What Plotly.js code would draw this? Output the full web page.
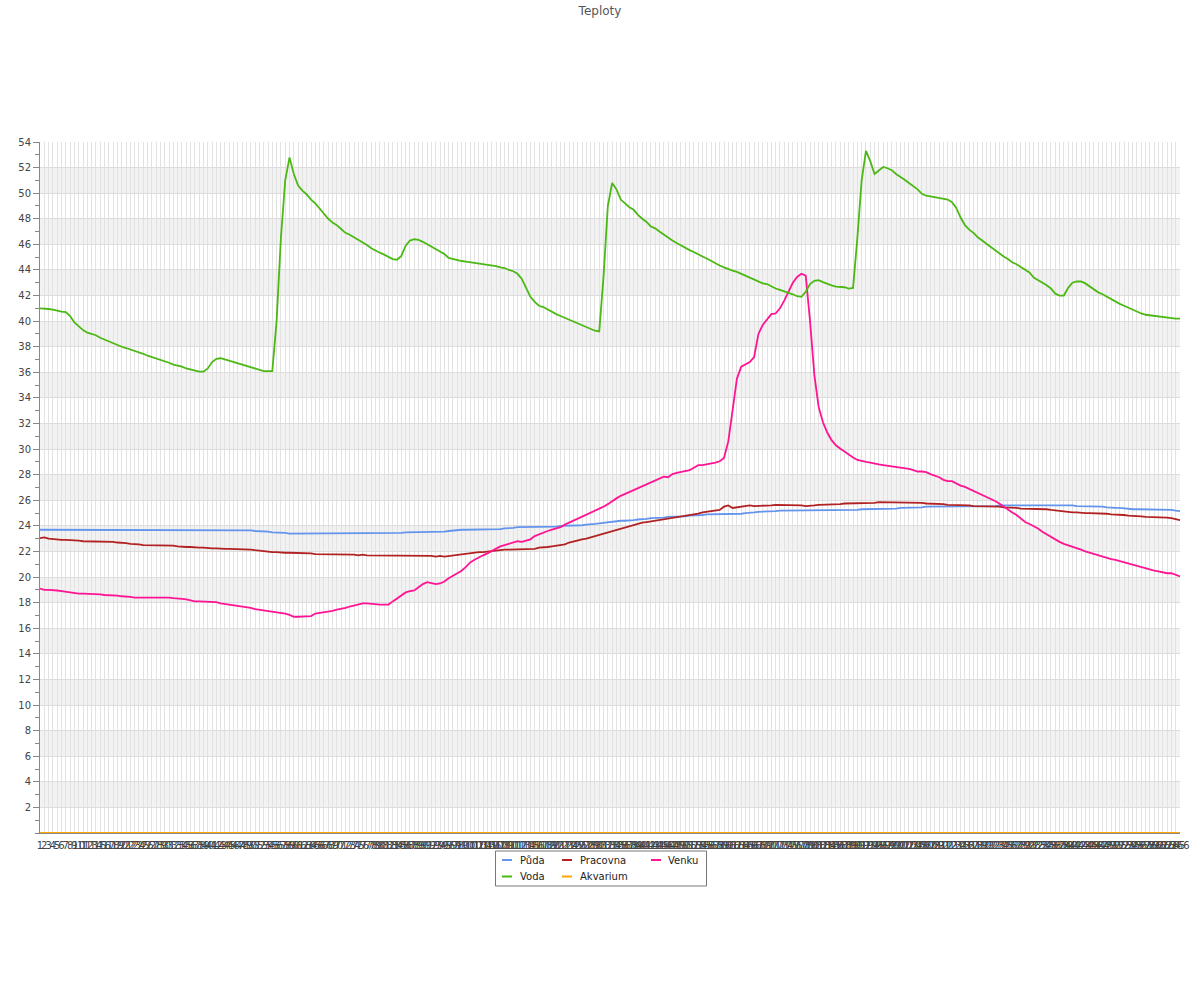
<!DOCTYPE html>
<html>
<head>
<meta charset="utf-8">
<script src="https://cdn.plot.ly/plotly-3.0.1.min.js"></script>
<style>html,body{margin:0;padding:0;background:#fff;}#chart{width:1200px;height:1000px;}</style>
</head>
<body>
<div id="chart"></div>
<script>
// ---- data ----
const chartTitle = "Teploty";
const seriesNames = ["Půda", "Pracovna", "Venku", "Voda", "Akvarium"];

const voda = [
41.0,41.0,40.95,40.9,40.8,40.75,40.7,40.4,39.9,39.6,
39.3,39.1,39.0,38.9,38.7,38.55,38.4,38.3,38.15,38.0,
37.9,37.8,37.65,37.55,37.45,37.3,37.2,37.1,36.95,36.85,
36.75,36.6,36.55,36.45,36.3,36.2,36.1,36.05,36.05,36.3,
36.8,37.05,37.1,37.0,36.9,36.75,36.7,36.55,36.5,36.35,
36.25,36.15,36.1,36.1,36.1,40.0,46.5,51.0,52.8,51.5,
50.6,50.2,49.9,49.5,49.2,48.8,48.4,48.0,47.7,47.5,
47.2,46.9,46.75,46.55,46.35,46.2,45.95,45.7,45.5,45.35,
45.2,45.0,44.85,44.8,45.1,45.9,46.3,46.4,46.35,46.2,
46.0,45.85,45.65,45.45,45.25,44.95,44.85,44.75,44.7,44.65,
44.6,44.6,44.55,44.5,44.45,44.4,44.3,44.2,44.15,44.0,
43.9,43.7,43.3,42.6,41.9,41.5,41.2,41.1,40.9,40.75,
40.55,40.4,40.25,40.1,39.95,39.8,39.65,39.5,39.35,39.25,
39.2,43.5,49.0,50.8,50.3,49.5,49.2,48.9,48.7,48.3,
48.0,47.75,47.4,47.25,47.0,46.75,46.5,46.3,46.1,45.9,
45.75,45.55,45.4,45.2,45.05,44.9,44.7,44.5,44.35,44.2,
44.05,43.95,43.85,43.7,43.6,43.45,43.3,43.1,42.95,42.9,
42.7,42.55,42.45,42.35,42.2,42.1,41.95,41.9,42.3,42.9,
43.15,43.2,43.05,42.9,42.8,42.7,42.7,42.65,42.55,42.6,
46.5,51.0,53.3,52.5,51.5,51.8,52.05,51.95,51.8,51.5,
51.3,51.05,50.8,50.55,50.3,49.95,49.8,49.75,49.7,49.6,
49.55,49.5,49.3,48.85,48.1,47.5,47.15,46.9,46.55,46.3,
46.0,45.75,45.5,45.3,45.05,44.85,44.6,44.45,44.25,44.05,
43.8,43.4,43.2,43.05,42.8,42.55,42.15,42.0,42.0,42.6,
43.0,43.1,43.1,42.95,42.7,42.45,42.25,42.1,41.9,41.7,
41.55,41.35,41.2,41.05,40.85,40.7,40.6,40.5,40.45,40.45,
40.4,40.35,40.3,40.25,40.2,40.2
];

const venku = [
19.1,19.0,19.0,19.0,18.95,18.9,18.85,18.8,18.7,18.7,
18.7,18.7,18.7,18.65,18.65,18.6,18.6,18.55,18.55,18.5,
18.5,18.45,18.4,18.4,18.4,18.4,18.45,18.4,18.4,18.4,
18.4,18.35,18.35,18.3,18.25,18.15,18.1,18.1,18.1,18.1,
18.1,18.05,17.95,17.9,17.85,17.8,17.8,17.75,17.7,17.6,
17.5,17.45,17.4,17.4,17.35,17.3,17.25,17.15,17.05,16.9,
16.9,16.9,16.9,16.95,17.15,17.2,17.2,17.25,17.35,17.45,
17.5,17.6,17.7,17.8,17.85,17.95,17.95,17.9,17.9,17.85,
17.85,17.85,18.1,18.35,18.6,18.8,18.9,18.95,19.2,19.45,
19.6,19.5,19.45,19.5,19.65,19.9,20.1,20.25,20.5,20.8,
21.15,21.35,21.55,21.7,21.85,22.05,22.2,22.4,22.5,22.6,
22.75,22.8,22.75,22.85,22.95,23.2,23.35,23.5,23.6,23.7,
23.8,23.9,24.1,24.25,24.4,24.55,24.7,24.85,25.0,25.15,
25.35,25.5,25.7,25.95,26.15,26.35,26.5,26.7,26.85,27.0,
27.1,27.3,27.4,27.55,27.7,27.85,27.8,28.05,28.15,28.2,
28.3,28.35,28.55,28.75,28.75,28.8,28.85,28.95,29.05,29.3,
30.6,33.2,35.5,36.45,36.65,36.8,37.2,39.0,39.7,40.1,
40.55,40.6,41.0,41.6,42.3,43.0,43.45,43.7,43.55,40.0,
35.8,33.3,32.1,31.3,30.7,30.3,30.05,29.8,29.55,29.35,
29.15,29.05,29.0,28.95,28.85,28.8,28.75,28.7,28.7,28.65,
28.6,28.5,28.45,28.35,28.25,28.25,28.2,28.05,27.95,27.8,
27.6,27.5,27.5,27.3,27.15,27.05,26.9,26.75,26.6,26.45,
26.3,26.15,25.95,25.75,25.5,25.25,25.05,24.85,24.6,24.3,
24.15,24.0,23.8,23.55,23.35,23.1,22.9,22.75,22.6,22.5,
22.4,22.25,22.15,22.0,21.9,21.75,21.65,21.55,21.45,21.4,
21.35,21.25,21.2,21.1,21.0,20.9,20.8,20.7,20.6,20.5,
20.45,20.35,20.3,20.3,20.2,20.05
];

const pracovna = [
23.05,23.1,23.0,22.95,22.9,22.9,22.9,22.9,22.85,22.85,
22.8,22.8,22.8,22.8,22.8,22.75,22.75,22.75,22.7,22.7,
22.65,22.6,22.6,22.55,22.5,22.5,22.5,22.5,22.5,22.5,
22.45,22.45,22.4,22.35,22.35,22.35,22.3,22.3,22.3,22.25,
22.25,22.25,22.2,22.2,22.2,22.2,22.2,22.2,22.15,22.15,
22.1,22.05,22.0,22.0,21.95,21.95,21.9,21.9,21.9,21.9,
21.85,21.85,21.85,21.85,21.8,21.8,21.8,21.8,21.75,21.75,
21.75,21.75,21.75,21.75,21.7,21.75,21.7,21.7,21.7,21.7,
21.7,21.7,21.7,21.7,21.7,21.7,21.7,21.7,21.7,21.7,
21.65,21.65,21.6,21.65,21.6,21.65,21.7,21.7,21.75,21.8,
21.9,21.95,21.95,21.95,22.0,22.05,22.1,22.15,22.15,22.15,
22.15,22.15,22.15,22.15,22.15,22.2,22.3,22.3,22.35,22.4,
22.45,22.5,22.55,22.7,22.8,22.85,22.95,23.0,23.1,23.2,
23.3,23.4,23.5,23.6,23.65,23.75,23.9,24.0,24.1,24.2,
24.25,24.3,24.35,24.4,24.45,24.5,24.6,24.65,24.7,24.75,
24.8,24.85,24.9,24.95,25.05,25.1,25.15,25.2,25.25,25.5,
25.6,25.4,25.45,25.55,25.6,25.6,25.55,25.55,25.6,25.6,
25.6,25.65,25.65,25.65,25.6,25.6,25.6,25.6,25.55,25.55,
25.6,25.65,25.65,25.7,25.7,25.65,25.7,25.75,25.75,25.8,
25.8,25.8,25.75,25.75,25.8,25.85,25.85,25.85,25.85,25.85,
25.85,25.8,25.8,25.85,25.8,25.8,25.75,25.75,25.7,25.7,
25.7,25.65,25.65,25.6,25.6,25.6,25.6,25.55,25.55,25.55,
25.55,25.55,25.5,25.5,25.45,25.45,25.4,25.4,25.35,25.35,
25.3,25.3,25.3,25.3,25.3,25.25,25.2,25.2,25.15,25.1,
25.05,25.05,25.0,25.0,25.0,25.0,25.0,24.95,24.95,24.9,
24.9,24.85,24.85,24.8,24.8,24.75,24.75,24.7,24.7,24.7,
24.7,24.7,24.65,24.6,24.55,24.45
];

const puda = [
23.7,23.7,23.7,23.7,23.7,23.7,23.7,23.7,23.7,23.7,
23.7,23.7,23.7,23.7,23.7,23.7,23.7,23.7,23.7,23.7,
23.7,23.7,23.7,23.7,23.7,23.7,23.7,23.7,23.7,23.7,
23.7,23.7,23.7,23.7,23.7,23.7,23.7,23.7,23.7,23.7,
23.7,23.7,23.7,23.7,23.7,23.65,23.65,23.65,23.65,23.65,
23.6,23.6,23.55,23.55,23.5,23.5,23.5,23.45,23.4,23.4,
23.4,23.4,23.4,23.4,23.4,23.4,23.4,23.4,23.4,23.4,
23.4,23.4,23.45,23.45,23.4,23.4,23.4,23.4,23.4,23.4,
23.4,23.4,23.4,23.4,23.45,23.5,23.5,23.5,23.55,23.55,
23.55,23.55,23.55,23.55,23.55,23.6,23.65,23.65,23.7,23.7,
23.7,23.7,23.7,23.7,23.7,23.7,23.75,23.75,23.8,23.8,
23.85,23.9,23.9,23.9,23.9,23.9,23.9,23.9,23.9,23.95,
23.95,24.0,24.0,24.0,24.0,24.0,24.05,24.1,24.1,24.15,
24.2,24.25,24.3,24.3,24.35,24.4,24.4,24.4,24.45,24.5,
24.5,24.55,24.6,24.6,24.65,24.65,24.7,24.7,24.7,24.75,
24.75,24.8,24.8,24.85,24.85,24.9,24.9,24.95,24.95,24.95,
24.95,24.95,24.95,24.95,25.0,25.0,25.05,25.1,25.1,25.1,
25.15,25.15,25.2,25.2,25.2,25.2,25.2,25.2,25.2,25.2,
25.2,25.2,25.2,25.2,25.2,25.2,25.2,25.2,25.2,25.25,
25.25,25.3,25.3,25.3,25.3,25.3,25.3,25.3,25.35,25.35,
25.4,25.4,25.4,25.4,25.4,25.45,25.5,25.5,25.5,25.5,
25.5,25.5,25.5,25.5,25.5,25.5,25.5,25.5,25.5,25.5,
25.5,25.55,25.55,25.6,25.6,25.6,25.6,25.6,25.6,25.65,
25.65,25.65,25.65,25.65,25.65,25.6,25.6,25.6,25.6,25.6,
25.6,25.55,25.55,25.55,25.55,25.55,25.5,25.5,25.45,25.4,
25.4,25.4,25.35,25.35,25.3,25.3,25.3,25.25,25.25,25.25,
25.25,25.25,25.25,25.25,25.2,25.15
];

const akvarium = [
0,0,0,0,0,0,0,0,0,0,0,0,0,0,0,0,0,0,0,0,0,0,0,0,0,0,0,0,0,0,
0,0,0,0,0,0,0,0,0,0,0,0,0,0,0,0,0,0,0,0,0,0,0,0,0,0,0,0,0,0,
0,0,0,0,0,0,0,0,0,0,0,0,0,0,0,0,0,0,0,0,0,0,0,0,0,0,0,0,0,0,
0,0,0,0,0,0,0,0,0,0,0,0,0,0,0,0,0,0,0,0,0,0,0,0,0,0,0,0,0,0,
0,0,0,0,0,0,0,0,0,0,0,0,0,0,0,0,0,0,0,0,0,0,0,0,0,0,0,0,0,0,
0,0,0,0,0,0,0,0,0,0,0,0,0,0,0,0,0,0,0,0,0,0,0,0,0,0,0,0,0,0,
0,0,0,0,0,0,0,0,0,0,0,0,0,0,0,0,0,0,0,0,0,0,0,0,0,0,0,0,0,0,
0,0,0,0,0,0,0,0,0,0,0,0,0,0,0,0,0,0,0,0,0,0,0,0,0,0,0,0,0,0,
0,0,0,0,0,0,0,0,0,0,0,0,0,0,0,0,0,0,0,0,0,0,0,0,0,0,0,0,0,0,
0,0,0,0,0,0,0,0,0,0,0,0,0,0,0,0,0,0,0,0,0,0,0,0,0,0,0,0,0,0
];

// x category labels 1..266
const xLabels = [];
for (let i = 1; i <= voda.length; i++) xLabels.push(String(i));

const yTickVals = [2,4,6,8,10,12,14,16,18,20,22,24,26,28,30,32,34,36,38,40,42,44,46,48,50,52,54];

// ---- styles ----
const colors = {
  "Půda": "#6495ed",
  "Pracovna": "#b22222",
  "Venku": "#ff1493",
  "Voda": "#4cb814",
  "Akvarium": "#ffa500"
};
const seriesData = {"Půda": puda, "Pracovna": pracovna, "Venku": venku, "Voda": voda, "Akvarium": akvarium};

const FONT = "DejaVu Sans, Verdana, sans-serif";
const W = 1200, H = 1000, ML = 40, MR = 20, MT = 142, MB = 167;
const plotW = W - ML - MR, plotH = H - MT - MB;
const px2x = p => (p - ML) / plotW;
const px2y = p => (H - MB - p) / plotH;

// legend layout (pixel positions in the page): [row y, swatch start, text start]
const legendSlots = {
  "Půda":     {y: 860, sx: 502, tx: 520},
  "Pracovna": {y: 860, sx: 562, tx: 580},
  "Venku":    {y: 860, sx: 651, tx: 668},
  "Voda":     {y: 876.5, sx: 502, tx: 520},
  "Akvarium": {y: 876.5, sx: 562, tx: 580}
};
const legendBox = {x0: 495.5, x1: 706.5, y0: 851, y1: 886};

const traces = seriesNames.map(name => ({
  type: "scatter", mode: "lines", name: name,
  x: xLabels, y: seriesData[name],
  line: {color: colors[name], width: 1.8},
  showlegend: false
}));

// alternating bands
const shapes = [];
for (let k = 0; k < yTickVals.length; k++) {
  const v = yTickVals[k];
  if (v % 4 === 2 && v + 2 <= 54) {
    shapes.push({type: "rect", xref: "paper", yref: "y", x0: 0, x1: 1, y0: v, y1: v + 2,
      fillcolor: "#f2f2f2", line: {width: 0}, layer: "below"});
  }
}
// legend frame + swatches + labels
shapes.push({type: "rect", xref: "paper", yref: "paper",
  x0: px2x(legendBox.x0), x1: px2x(legendBox.x1), y0: px2y(legendBox.y0), y1: px2y(legendBox.y1),
  line: {color: "#777", width: 1}, fillcolor: "rgba(255,255,255,0)", layer: "above"});
const annotations = [];
seriesNames.forEach(name => {
  const s = legendSlots[name];
  shapes.push({type: "line", xref: "paper", yref: "paper",
    x0: px2x(s.sx), x1: px2x(s.sx + 10), y0: px2y(s.y), y1: px2y(s.y),
    line: {color: colors[name], width: 2}, layer: "above"});
  annotations.push({xref: "paper", yref: "paper", x: px2x(s.tx - 2), y: px2y(s.y),
    xanchor: "left", yanchor: "middle", showarrow: false, text: name,
    font: {family: FONT, size: 10, color: "#222"}});
});

const layout = {
  width: W, height: H,
  paper_bgcolor: "#fff", plot_bgcolor: "#fff",
  margin: {l: ML, r: MR, t: MT, b: MB, pad: 0},
  font: {family: FONT, size: 10, color: "#444"},
  title: {text: chartTitle, x: 0.5, xanchor: "center", yref: "container", y: 0.989, yanchor: "middle",
    font: {family: FONT, size: 12, color: "#555"}},
  showlegend: false,
  xaxis: {
    type: "category", range: [0, xLabels.length - 1],
    tickmode: "linear", tick0: 0, dtick: 1, tickangle: 0,
    showgrid: true, gridcolor: "#e2e2e2", gridwidth: 1,
    showline: true, linecolor: "#888", linewidth: 1,
    ticks: "outside", ticklen: 3, tickcolor: "rgba(0,0,0,0)",
    zeroline: false, automargin: false,
    tickfont: {family: FONT, size: 10, color: "#444"}
  },
  yaxis: {
    range: [0, 54], tickmode: "array", tickvals: yTickVals,
    showgrid: true, gridcolor: "#dddddd", gridwidth: 1,
    showline: true, linecolor: "#888", linewidth: 1,
    ticks: "outside", ticklen: 6, tickcolor: "#888",
    minor: {tickmode: "linear", tick0: 0, dtick: 1, ticks: "outside", ticklen: 4, tickcolor: "#888", showgrid: false},
    zeroline: false, automargin: false,
    tickfont: {family: FONT, size: 10, color: "#444"}
  },
  shapes: shapes,
  annotations: annotations
};

Plotly.newPlot("chart", traces, layout, {displayModeBar: false, staticPlot: true});
</script>
</body>
</html>
